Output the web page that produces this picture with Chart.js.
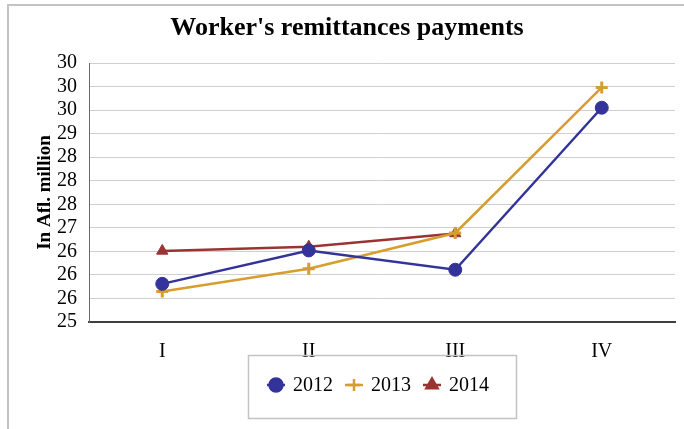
<!DOCTYPE html>
<html>
<head>
<meta charset="utf-8">
<script src="https://cdn.jsdelivr.net/npm/chart.js@4.4.0/dist/chart.umd.min.js"></script>
<style>
  html, body { margin: 0; padding: 0; background: #fff; overflow: hidden; }
  #wrap { position: relative; width: 684px; height: 429px; }
  #frame { position: absolute; left: 7px; top: 4px; width: 720px; height: 520px;
           border-left: 2px solid #c3c3c3; border-top: 2px solid #c3c3c3; }
  canvas { position: absolute; left: 0; top: 0; }
</style>
</head>
<body>
<div id="wrap">
  <div id="frame"></div>
  <canvas id="chart" width="684" height="429"></canvas>
</div>
<script>
const quarters = ['I', 'II', 'III', 'IV'];
const pay2012 = [25.81, 26.52, 26.11, 29.55];
const pay2013 = [25.65, 26.13, 26.89, 29.98];
const pay2014 = [26.51, 26.60, 26.88, null];
// axis labels as printed (whole numbers, half-to-even)
const yTickLabels = ['25', '26', '26', '26', '27', '28', '28', '28', '29', '30', '30', '30'];

const SERIF = "'Liberation Serif', 'Times New Roman', serif";
const BLUE = '#333399';
const GOLD = '#d69d2f';
const RED  = '#9b3333';

const decor = {
  id: 'decor',
  afterDraw(chart) {
    const ctx = chart.ctx;
    ctx.save();
    // title
    ctx.fillStyle = '#000';
    ctx.font = 'bold 26px ' + SERIF;
    ctx.textAlign = 'center';
    ctx.textBaseline = 'middle';
    ctx.fillText("Worker's remittances payments", 347, 28);

    // legend box
    ctx.strokeStyle = '#c3c3c3';
    ctx.lineWidth = 1.5;
    ctx.strokeRect(248.5, 355.5, 268, 63);

    const centers = [276, 354, 432];
    ctx.font = '20px ' + SERIF;
    ctx.textAlign = 'left';
    chart.data.datasets.forEach((ds, i) => {
      const cx = centers[i], cy = 385;
      ctx.strokeStyle = ds.borderColor;
      ctx.lineWidth = 2.5;
      ctx.beginPath();
      ctx.moveTo(cx - 9, cy);
      ctx.lineTo(cx + 9, cy);
      ctx.stroke();
      ctx.fillStyle = ds.pointBackgroundColor;
      ctx.strokeStyle = ds.pointBorderColor;
      Chart.helpers.drawPoint(ctx, {
        pointStyle: ds.pointStyle, radius: ds.pointRadius,
        borderWidth: ds.pointBorderWidth, rotation: 0
      }, cx, cy);
      ctx.fillStyle = '#000';
      ctx.fillText(ds.label, cx + 17, cy + 1);
    });
    ctx.restore();
  }
};

function series(label, data, color, style, radius, bw) {
  return {
    label, data,
    borderColor: color, backgroundColor: color,
    borderWidth: 2.5, tension: 0,
    pointStyle: style, pointRadius: radius, pointHoverRadius: radius,
    pointBackgroundColor: color, pointBorderColor: color, pointBorderWidth: bw,
    spanGaps: false
  };
}

new Chart(document.getElementById('chart').getContext('2d'), {
  type: 'line',
  data: {
    labels: quarters,
    datasets: [
      series('2012', pay2012, BLUE, 'circle', 6.5, 1),
      series('2013', pay2013, GOLD, 'cross', 6, 3),
      series('2014', pay2014, RED, 'triangle', 6.5, 1)
    ]
  },
  options: {
    responsive: false,
    animation: false,
    devicePixelRatio: 1,
    layout: { padding: { top: 63, right: 7, bottom: 0, left: 0 } },
    plugins: {
      legend: { display: false },
      title: { display: false },
      tooltip: { enabled: false }
    },
    scales: {
      x: {
        offset: true,
        grid: { display: false, drawTicks: false },
        border: { color: '#404040', width: 2 },
        ticks: { color: '#000', font: { family: SERIF, size: 20 }, padding: 18 },
        afterFit(scale) { scale.height = 107; }
      },
      y: {
        min: 25, max: 30.5,
        grid: { color: '#cfcfcf', lineWidth: 1, drawTicks: false },
        border: { color: '#6a6a6a', width: 1 },
        ticks: {
          stepSize: 0.5, autoSkip: false, color: '#000', padding: 12,
          font: { family: SERIF, size: 20 },
          callback: (v, i) => yTickLabels[i]
        },
        title: {
          display: true, text: 'In Afl. million', color: '#000',
          font: { family: SERIF, size: 19, weight: 'bold' },
          padding: { top: 34, bottom: 0 }
        },
        afterFit(scale) { scale.width = 89; }
      }
    }
  },
  plugins: [decor]
});
</script>
</body>
</html>
